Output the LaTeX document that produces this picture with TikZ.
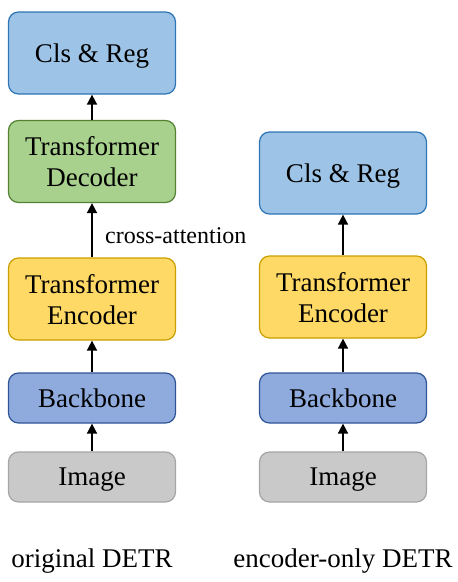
\documentclass[tikz,border=0pt]{standalone}
\usepackage{fontspec}
\setmainfont{Liberation Serif}
\usetikzlibrary{arrows.meta}
\definecolor{clsfill}{HTML}{9DC3E6}
\definecolor{clsdraw}{HTML}{2E75B6}
\definecolor{decfill}{HTML}{A9D18E}
\definecolor{decdraw}{HTML}{548235}
\definecolor{encfill}{HTML}{FFD966}
\definecolor{encdraw}{HTML}{C9A000}
\definecolor{bbfill}{HTML}{8FAADC}
\definecolor{bbdraw}{HTML}{2F5597}
\definecolor{imgfill}{HTML}{C9C9C9}
\definecolor{imgdraw}{HTML}{A5A5A5}
\begin{document}
\begin{tikzpicture}[
                x = 1pt, y = -1pt,
                blk/.style = {draw, line width = 1.2pt, rounded corners = 10pt, minimum width = 167pt,
                              align = center, inner sep = 0pt, text depth = 0pt,
                              font = \fontsize{27}{31}\selectfont},
                tall/.style = {blk, minimum height = 82pt},
                short/.style = {blk, minimum height = 50pt},
                title/.style = {font = \fontsize{27}{31}\selectfont},
                arr/.style = {draw, line width = 1.6pt, -{Triangle[width = 10pt, length = 10pt]}},
            ]
            \useasboundingbox (0,0) rectangle (458,582);

            % original DETR
            \node (cls1) [tall, fill=clsfill, draw=clsdraw] at (92,53){Cls \& Reg};
            \node (dec1) [tall, fill=decfill, draw=decdraw] at (92,161.5){Transformer\\Decoder};
            \node (enc1) [tall, fill=encfill, draw=encdraw] at (92,299){Transformer\\Encoder};
            \node (bb1) [short, fill=bbfill, draw=bbdraw] at (92,398){Backbone};
            \node (img1) [short, fill=imgfill, draw=imgdraw] at (92,477){Image};
            \node (lab1) [title, anchor=base] at (92,567){original DETR};

            % encoder-only DETR
            \node (cls2) [tall, fill=clsfill, draw=clsdraw] at (343,173){Cls \& Reg};
            \node (enc2) [tall, fill=encfill, draw=encdraw] at (343,297){Transformer\\Encoder};
            \node (bb2) [short, fill=bbfill, draw=bbdraw] at (343,398){Backbone};
            \node (img2) [short, fill=imgfill, draw=imgdraw] at (343,477){Image};
            \node (lab2) [title, anchor=base] at (343,567){encoder-only DETR};

            \path[arr] (img1) -- (bb1);
            \path[arr] (bb1) -- (enc1);
            \path[arr] (enc1) -- node[anchor=west, xshift=9pt, yshift=-5pt,
                font=\fontsize{24}{28}\selectfont]{cross-attention} (dec1);
            \path[arr] (dec1) -- (cls1);

            \path[arr] (img2) -- (bb2);
            \path[arr] (bb2) -- (enc2);
            \path[arr] (enc2) -- (cls2);
        \end{tikzpicture}
\end{document}
